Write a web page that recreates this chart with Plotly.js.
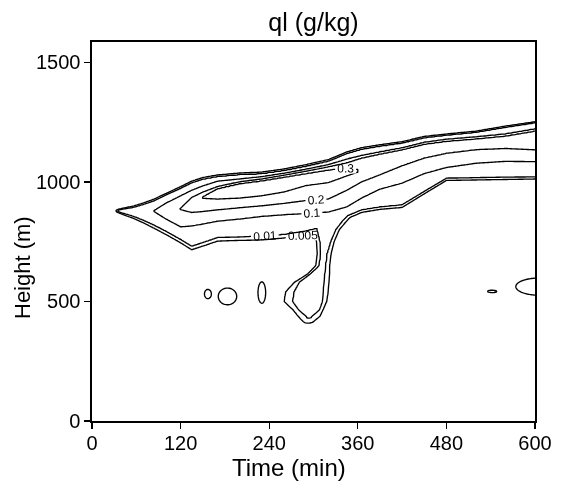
<!DOCTYPE html>
<html>
<head>
<meta charset="utf-8">
<script src="https://cdn.plot.ly/plotly-3.0.1.min.js"></script>
<style>html,body{margin:0;padding:0;background:#fff;}#chart{width:564px;height:495px;}#chart svg{will-change:transform;}</style>
</head>
<body>
<div id="chart"></div>
<script>
// ---- Data (time in min, height in m, ql in g/kg) ----
// Contour levels drawn
const levels = [0.005, 0.01, 0.1, 0.2, 0.3];
const xTicks = [0, 120, 240, 360, 480, 600];
const yTicks = [0, 500, 1000, 1500];

// Main cloud layer: per time column, heights where each level is crossed
const colTime = [30,40,55,70,84,100,120,135,150,170,200,230,260,290,320,345,365,390,420,450,480,520,560,600];
const lo005 = [880,866,849,828,806,780,745,716,731,752,755,757,765,780,805,845,872,885,893,950,1006,1008,1010,1012];
const lo01  = [880,871,858,840,820,795,760,732,747,768,771,773,781,796,818,858,884,896,905,961,1016,1019,1020,1022];
const lo1   = [880,878,878,878,876,845,812,816,824,836,845,856,863,868,874,895,932,970,995,1035,1060,1078,1086,1085];
const lo2   = [880,878,878,878,878,870,884,872,876,883,892,900,910,922,928,965,1000,1030,1068,1100,1120,1135,1140,1134];
const lo3   = [880,878,878,878,878,875,886,905,931,928,932,942,958,985,997,1025,1045,1065,1090,1120,1140,1155,1165,1170];
const hi3   = [880,878,878,878,878,885,888,912,938,972,993,1005,1020,1035,1050,1058,1050,1075,1100,1130,1150,1165,1175,1185];
const hi2   = [880,878,878,878,878,895,890,935,957,980,1000,1012,1028,1045,1063,1080,1100,1117,1135,1158,1170,1180,1192,1213];
const hi1   = [880,878,878,878,880,911,942,965,983,1003,1012,1022,1036,1053,1072,1095,1110,1125,1142,1165,1178,1188,1200,1221];
const hi01  = [880,885,892,905,920,944,972,995,1010,1021,1029,1033,1046,1064,1085,1117,1135,1148,1161,1183,1194,1206,1227,1246];
const hi005 = [880,888,898,912,928,951,980,1003,1018,1029,1037,1041,1054,1072,1093,1125,1143,1155,1168,1190,1200,1212,1233,1251];
const peakQl = [0,0.02,0.045,0.072,0.102,0.14,0.203,0.25,0.302,0.34,0.36,0.37,0.37,0.36,0.35,0.33,0.29,0.28,0.27,0.27,0.27,0.27,0.27,0.27];

// Hanging tail below the cloud base: per height row, times where 0.005 / 0.01 are crossed
const tailHeight = [400,415,438,465,500,540,580,615,650,700,750,800,840,870,900];
const tailL005 = [292,286,279,272,260,262,274,292,303,305,304,300,300,300,300];
const tailL01  = [292,292,290,280,272,274,281,296,308,310,309,305,305,305,305];
const tailR01  = [292,294,298,308,312,313,314,315,316,318,323,330,340,350,358];
const tailR005 = [292,300,309,313,318,320,321,322,322,324,328,335,346,356,364];
const tailPeak = [0,0.008,0.011,0.03,0.04,0.04,0.04,0.04,0.04,0.04,0.04,0.04,0.04,0.04,0.04];

// Small isolated cloud puffs (centre time, centre height, half-width min, half-depth m)
const puffTime   = [157, 183.5, 230, 542, 606];
const puffHeight = [531, 521, 537, 542, 562];
const puffHalfW  = [4.7, 12.5, 5.2, 6.5, 32];
const puffHalfD  = [19.5, 35, 45, 5, 36];

// ---- Build the gridded field for the contour traces ----
const tGrid = []; for (let i = 0; i <= 400; i++) tGrid.push(i * 1.5);
const hGrid = []; for (let j = 0; j <= 400; j++) hGrid.push(j * 4);

function seg(xs, x) {
  if (x < xs[0] || x > xs[xs.length - 1]) return null;
  let i = 0;
  while (i < xs.length - 2 && x > xs[i + 1]) i++;
  const f = (x - xs[i]) / (xs[i + 1] - xs[i]);
  return [i, f];
}
function lerpA(a, s) { return a[s[0]] + (a[s[0] + 1] - a[s[0]]) * s[1]; }
function pwl(knots, x) {
  if (x <= knots[0][0] || x >= knots[knots.length - 1][0]) return 0;
  for (let k = 0; k < knots.length - 1; k++) {
    const a = knots[k], b = knots[k + 1];
    if (x >= a[0] && x <= b[0]) {
      if (b[0] === a[0]) return Math.max(a[1], b[1]);
      return a[1] + (b[1] - a[1]) * (x - a[0]) / (b[0] - a[0]);
    }
  }
  return 0;
}

const mainKnots = tGrid.map(t => {
  const s = seg(colTime, t);
  if (!s) return null;
  const p = lerpA(peakQl, s);
  const m = (v) => Math.min(v, p);
  const L5 = lerpA(lo005, s), L01 = lerpA(lo01, s), L1 = lerpA(lo1, s), L2 = lerpA(lo2, s), L3 = lerpA(lo3, s);
  const H3 = lerpA(hi3, s), H2 = lerpA(hi2, s), H1 = lerpA(hi1, s), H01 = lerpA(hi01, s), H5 = lerpA(hi005, s);
  return [[L5 - 10, 0], [L5, m(0.005)], [L01, m(0.01)], [L1, m(0.1)], [L2, m(0.2)], [L3, m(0.3)],
          [(L3 + H3) / 2, p], [H3, m(0.3)], [H2, m(0.2)], [H1, m(0.1)], [H01, m(0.01)], [H5, m(0.005)], [H5 + 10, 0]];
});
const tailKnots = hGrid.map(h => {
  const s = seg(tailHeight, h);
  if (!s) return null;
  const p = lerpA(tailPeak, s);
  const m = (v) => Math.min(v, p);
  const a = lerpA(tailL005, s), b = lerpA(tailL01, s), c = lerpA(tailR01, s), d = lerpA(tailR005, s);
  return [[a - 4, 0], [a, m(0.005)], [b, m(0.01)], [(b + c) / 2, p], [c, m(0.01)], [d, m(0.005)], [d + 4, 0]];
});

const Z = hGrid.map((h, j) => tGrid.map((t, i) => {
  let z = 0;
  if (mainKnots[i]) z = Math.max(z, pwl(mainKnots[i], h));
  if (tailKnots[j]) z = Math.max(z, pwl(tailKnots[j], t));
  for (let k = 0; k < puffTime.length; k++) {
    const r = Math.hypot((t - puffTime[k]) / puffHalfW[k], (h - puffHeight[k]) / puffHalfD[k]);
    z = Math.max(z, 0.005 * (1.8 - 0.8 * r));
  }
  return z;
}));

const traces = levels.map(L => ({
  type: 'contour', x: tGrid, y: hGrid, z: Z,
  autocontour: false,
  contours: { start: L, end: L, size: 1, coloring: 'lines', showlabels: true,
              labelformat: '.3~f', labelfont: { family: 'Liberation Sans, Arial, sans-serif', size: 12, color: '#000' } },
  colorscale: [[0, '#000000'], [1, '#000000']],
  line: { width: 1.35, smoothing: 0 },
  showscale: false, hoverinfo: 'skip', name: String(L)
}));

const axisCommon = {
  showline: true, linecolor: '#000', linewidth: 1.6, mirror: true,
  ticks: 'outside', ticklen: 6, tickwidth: 1.4, tickcolor: '#000',
  showgrid: false, zeroline: false, tickmode: 'array',
  tickfont: { family: 'Liberation Sans Narrow, Liberation Sans, Arial, sans-serif', size: 20, color: '#000' }
};

const layout = {
  width: 564, height: 495,
  margin: { l: 92, r: 29, t: 42, b: 74 },
  paper_bgcolor: '#fff', plot_bgcolor: '#fff',
  showlegend: false,
  title: { text: 'ql (g/kg)', x: 0.5, xref: 'paper', xanchor: 'center', y: 1 - 22 / 495, yref: 'container', yanchor: 'middle',
           font: { family: 'Liberation Sans, Arial, sans-serif', size: 25, color: '#000' } },
  xaxis: Object.assign({}, axisCommon, { range: [0, 600], tickvals: xTicks, ticktext: xTicks.map(String), ticklabelstandoff: -3 }),
  yaxis: Object.assign({}, axisCommon, { range: [0, 1585], tickvals: yTicks, ticktext: yTicks.map(String) }),
  annotations: [
    { text: 'Time (min)', xref: 'paper', yref: 'paper', x: (289 - 92) / 443, y: (421 - 467) / 379,
      xanchor: 'center', yanchor: 'middle', showarrow: false,
      font: { family: 'Liberation Sans, Arial, sans-serif', size: 24, color: '#000' } },
    { text: 'Height (m)', xref: 'paper', yref: 'paper', x: (22 - 92) / 443, y: (421 - 268) / 379,
      xanchor: 'center', yanchor: 'middle', textangle: -90, showarrow: false,
      font: { family: 'Liberation Sans, Arial, sans-serif', size: 22, color: '#000' } }
  ]
};

Plotly.newPlot('chart', traces, layout, { staticPlot: true, displayModeBar: false });
</script>
</body>
</html>
